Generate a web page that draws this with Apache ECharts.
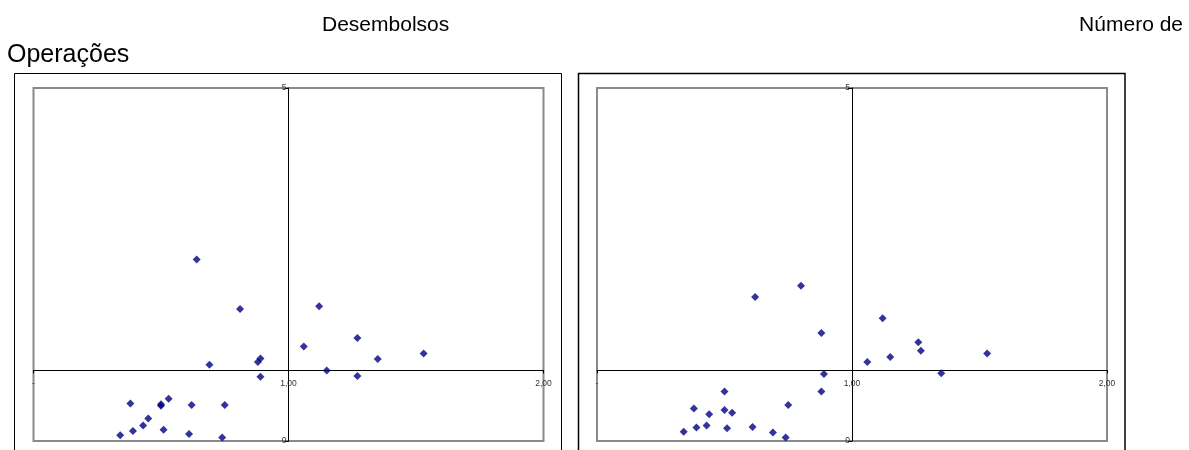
<!DOCTYPE html>
<html>
<head>
<meta charset="utf-8">
<script src="https://cdn.jsdelivr.net/npm/echarts@6/dist/echarts.min.js"></script>
<style>html,body{margin:0;padding:0;background:#fff}#c{width:1189px;height:450px}</style>
</head>
<body>
<div id="c"></div>
<script>
// ---- data ----
const titleLeft = 'Desembolsos';
const titleRight1 = 'Número de';
const titleRight2 = 'Operações';
const xTickValues = [0, 1, 2];
const xTickLabels = ['-', '1,00', '2,00'];
const yTickValues = [0, 5];
const yTickLabels = ['0', '5'];

const leftX = [0.64,0.81,1.12,1.27,1.06,1.35,1.53,0.69,0.88,0.89,0.89,1.15,1.27,0.38,0.50,0.50,0.53,0.62,0.75,0.45,0.43,0.39,0.34,0.51,0.61,0.74];
const leftY = [2.57,1.87,1.91,1.46,1.34,1.16,1.24,1.08,1.12,1.17,0.91,1.00,0.92,0.53,0.50,0.52,0.60,0.51,0.51,0.32,0.22,0.14,0.08,0.16,0.10,0.05];

const rightX = [0.62,0.80,0.88,1.12,1.26,1.27,1.53,1.06,1.15,1.35,0.89,0.88,0.50,0.38,0.44,0.50,0.53,0.75,0.34,0.39,0.43,0.51,0.61,0.69,0.74];
const rightY = [2.04,2.20,1.53,1.74,1.40,1.28,1.24,1.12,1.19,0.96,0.95,0.70,0.70,0.46,0.38,0.44,0.40,0.51,0.13,0.19,0.22,0.18,0.20,0.12,0.05];

const xCross = 1, yCross = 1;
const xMin = 0, xMax = 2, yMin = 0, yMax = 5;

// ---- layout ----
const gridW = 510, gridH = 353, gridTop = 88;
const grids = [{left: 33.5, top: gridTop, width: gridW, height: gridH},
               {left: 597, top: gridTop, width: gridW, height: gridH}];

const xOff = -gridH * (yCross - yMin) / (yMax - yMin);
const yOff = -gridW * (xCross - xMin) / (xMax - xMin);

function xAxisFor(i) {
  return {
    gridIndex: i, type: 'value', min: xMin, max: xMax, interval: 1,
    position: 'bottom', offset: xOff,
    axisLine: {show: true, onZero: false, lineStyle: {color: '#000', width: 1}},
    axisTick: {show: true, length: 3, lineStyle: {color: '#000'}},
    axisLabel: {show: true, fontSize: 8.5, color: '#333', fontFamily: 'Liberation Sans, Arial', margin: 9,
      formatter: v => { const k = xTickValues.indexOf(v); return k >= 0 ? xTickLabels[k] : ''; }},
    splitLine: {show: false}
  };
}
function yAxisFor(i) {
  return {
    gridIndex: i, type: 'value', min: yMin, max: yMax, interval: 5,
    position: 'left', offset: yOff,
    axisLine: {show: true, onZero: false, lineStyle: {color: '#000', width: 1}},
    axisTick: {show: true, length: 4, lineStyle: {color: '#000'}},
    axisLabel: {show: true, fontSize: 8.5, color: '#333', fontFamily: 'Liberation Sans, Arial', margin: 2,
      formatter: v => { const k = yTickValues.indexOf(v); return k >= 0 ? yTickLabels[k] : ''; }},
    splitLine: {show: false}
  };
}

const pts = (xs, ys) => xs.map((x, i) => [x, ys[i]]);
const font = '21px "Liberation Sans", Arial, sans-serif';
const font2 = '25px "Liberation Sans", Arial, sans-serif';

const chart = echarts.init(document.getElementById('c'), null, {renderer: 'canvas'});
chart.setOption({
  animation: false,
  backgroundColor: '#fff',
  grid: grids.map(g => Object.assign({show: true, borderColor: '#8a8a8a', borderWidth: 2, backgroundColor: 'transparent'}, g)),
  xAxis: [xAxisFor(0), xAxisFor(1)],
  yAxis: [yAxisFor(0), yAxisFor(1)],
  graphic: [
    {type: 'rect', shape: {x: 14.5, y: 73.5, width: 547, height: 400}, style: {fill: 'none', stroke: '#000', lineWidth: 1}, z: -1},
    {type: 'rect', shape: {x: 578.5, y: 73.5, width: 546.5, height: 400}, style: {fill: 'none', stroke: '#000', lineWidth: 1.5}, z: -1},
    {type: 'text', style: {text: titleLeft, x: 322, y: 25.5, font: font, fill: '#000', textAlign: 'left', textVerticalAlign: 'middle'}},
    {type: 'text', style: {text: titleRight1, x: 1183, y: 25.5, font: font, fill: '#000', textAlign: 'right', textVerticalAlign: 'middle'}},
    {type: 'text', style: {text: titleRight2, x: 7, y: 55.5, font: font2, fill: '#000', textAlign: 'left', textVerticalAlign: 'middle'}}
  ],
  series: [
    {type: 'scatter', xAxisIndex: 0, yAxisIndex: 0, data: pts(leftX, leftY), symbol: 'diamond', symbolSize: 8, itemStyle: {color: '#000080'}, z: 5},
    {type: 'scatter', xAxisIndex: 1, yAxisIndex: 1, data: pts(rightX, rightY), symbol: 'diamond', symbolSize: 8, itemStyle: {color: '#000080'}, z: 5}
  ]
});
</script>
</body>
</html>
